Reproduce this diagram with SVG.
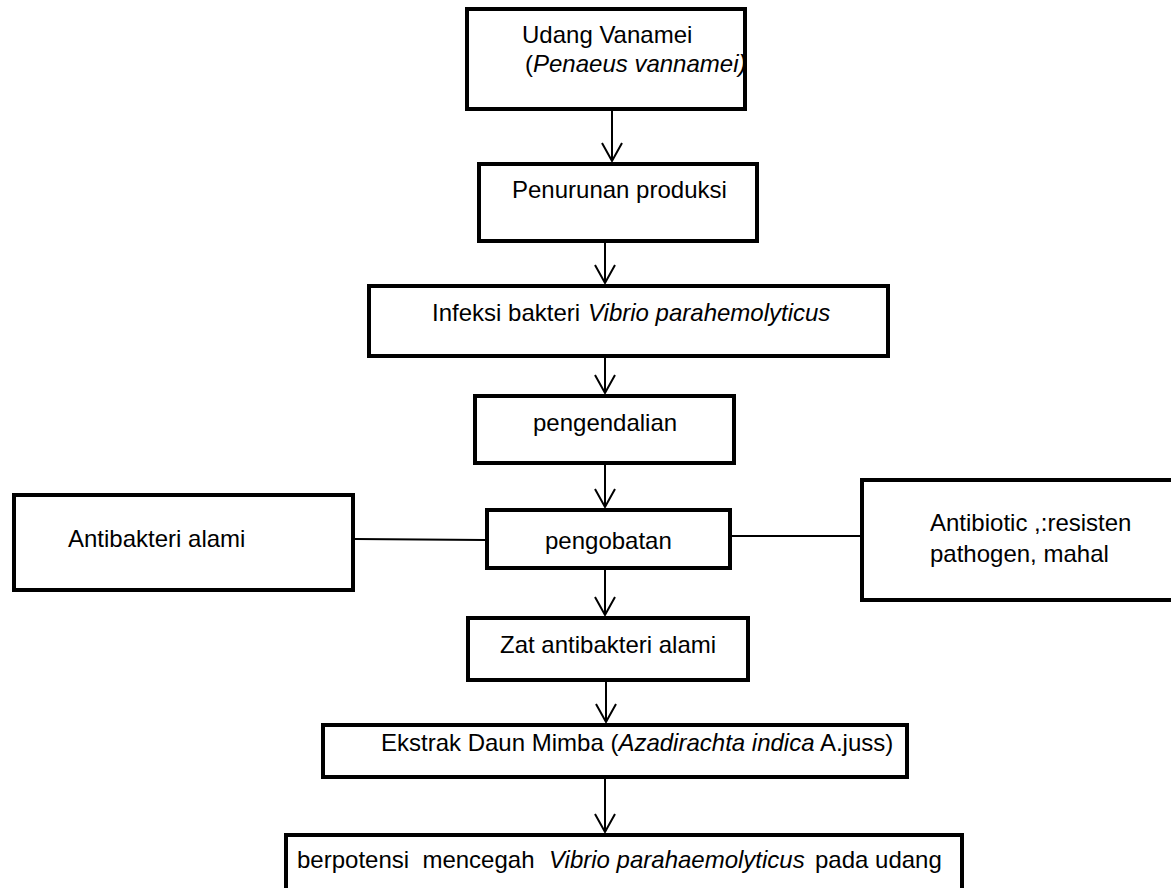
<svg xmlns="http://www.w3.org/2000/svg" width="1171" height="888" viewBox="0 0 1171 888">
<defs>
<style>
.box{fill:#ffffff;stroke:#000000;stroke-width:4}
.t{font-family:"Liberation Sans",Arial,sans-serif;font-size:24px;fill:#000000}
.i{font-style:italic}
.ln{stroke:#000000;stroke-width:2;fill:none}
</style>
<marker id="ah" markerWidth="24" markerHeight="24" refX="20" refY="10" orient="auto" markerUnits="userSpaceOnUse" viewBox="0 0 24 20">
<path d="M2,0 L20,10 L2,20" fill="none" stroke="#000" stroke-width="2"/>
</marker>
</defs>
<rect width="1171" height="888" fill="#ffffff"/>
<g id="connectors">
<line class="ln" x1="612" y1="111" x2="612" y2="161" marker-end="url(#ah)"/>
<line class="ln" x1="605" y1="243" x2="605" y2="283" marker-end="url(#ah)"/>
<line class="ln" x1="605" y1="358" x2="605" y2="393" marker-end="url(#ah)"/>
<line class="ln" x1="605" y1="465" x2="605" y2="507" marker-end="url(#ah)"/>
<line class="ln" x1="605" y1="570" x2="605" y2="615" marker-end="url(#ah)"/>
<line class="ln" x1="606" y1="682" x2="606" y2="722" marker-end="url(#ah)"/>
<line class="ln" x1="605" y1="777" x2="605" y2="832" marker-end="url(#ah)"/>
<line class="ln" x1="355" y1="539" x2="485" y2="540" stroke-width="1.6"/>
<line class="ln" x1="732" y1="536" x2="860" y2="536" stroke-width="1.6"/>
</g>
<g id="n1">
<rect class="box" x="467" y="9" width="278" height="100"/>
<text class="t" x="522" y="43">Udang Vanamei</text>
<text class="t" x="525" y="72">(<tspan class="i">Penaeus vannamei)</tspan></text>
</g>
<g id="n2">
<rect class="box" x="479" y="164" width="278" height="77"/>
<text class="t" x="512" y="198">Penurunan produksi</text>
</g>
<g id="n3">
<rect class="box" x="369" y="286" width="519" height="70"/>
<text class="t" x="432" y="321">Infeksi bakteri <tspan class="i" x="588">Vibrio parahemolyticus</tspan></text>
</g>
<g id="n4">
<rect class="box" x="475" y="396" width="259" height="67"/>
<text class="t" x="533" y="431">pengendalian</text>
</g>
<g id="n5">
<rect class="box" x="487" y="510" width="243" height="58"/>
<text class="t" x="545" y="549">pengobatan</text>
</g>
<g id="n6">
<rect class="box" x="14" y="495" width="339" height="95"/>
<text class="t" x="68" y="547">Antibakteri alami</text>
</g>
<g id="n7">
<rect class="box" x="862" y="480" width="320" height="120"/>
<text class="t" x="930" y="531">Antibiotic ,:resisten</text>
<text class="t" x="930" y="562">pathogen, mahal</text>
</g>
<g id="n8">
<rect class="box" x="468" y="618" width="280" height="62"/>
<text class="t" x="500" y="653">Zat antibakteri alami</text>
</g>
<g id="n9">
<rect class="box" x="323" y="725" width="584" height="52"/>
<text class="t" x="381" y="751">Ekstrak Daun Mimba (<tspan class="i">Azadirachta indica</tspan> A.juss)</text>
</g>
<g id="n10">
<rect class="box" x="286" y="835" width="676" height="60"/>
<text class="t" x="297" y="868" xml:space="preserve">berpotensi  mencegah <tspan class="i" x="549">Vibrio parahaemolyticus</tspan> <tspan x="815">pada udang</tspan></text>
</g>
</svg>
